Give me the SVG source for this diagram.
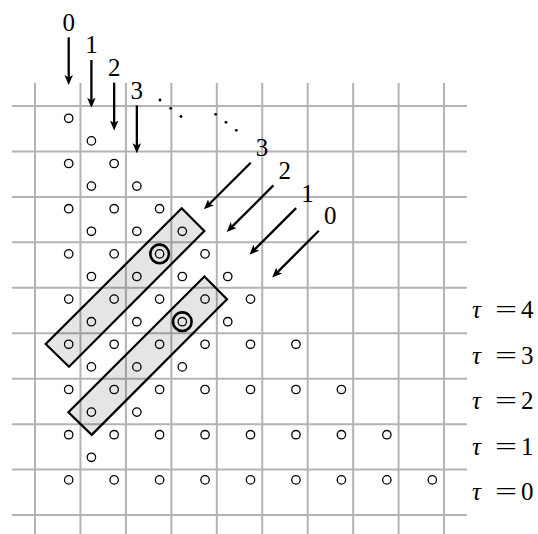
<svg xmlns="http://www.w3.org/2000/svg" width="538" height="534" viewBox="0 0 538 534">
<defs>
<style>
.grid line{stroke:#b3b3b3;stroke-width:2}
.pt{fill:none;stroke:#000;stroke-width:1.3}
.ring{fill:none;stroke:#000;stroke-width:2.6}
.box{fill:#000;fill-opacity:0.1;stroke:#000;stroke-width:2.2;stroke-linejoin:miter}
.arr{stroke:#000;stroke-width:2.3;fill:none;marker-end:url(#ah)}
.dot{fill:#000}
.lab{font-family:"Liberation Serif","DejaVu Serif",serif;font-size:25px;fill:#000;text-anchor:middle}
.tau{font-family:"Liberation Serif","DejaVu Serif",serif;font-size:25px;fill:#000}
</style>
<marker id="ah" markerUnits="userSpaceOnUse" markerWidth="11" markerHeight="9" refX="3.5" refY="4.25" orient="auto">
<path d="M0,0 L10,4.25 L0,8.5 L2.5,4.25 z" fill="#000"/>
</marker>
</defs>
<rect width="538" height="534" fill="#fff"/>
<g id="grid" class="grid">
<line x1="12" y1="106" x2="467" y2="106"/>
<line x1="12" y1="151.45" x2="467" y2="151.45"/>
<line x1="12" y1="196.9" x2="467" y2="196.9"/>
<line x1="12" y1="242.35" x2="467" y2="242.35"/>
<line x1="12" y1="287.8" x2="467" y2="287.8"/>
<line x1="12" y1="333.25" x2="467" y2="333.25"/>
<line x1="12" y1="378.7" x2="467" y2="378.7"/>
<line x1="12" y1="424.15" x2="467" y2="424.15"/>
<line x1="12" y1="469.6" x2="467" y2="469.6"/>
<line x1="12" y1="515.05" x2="467" y2="515.05"/>
<line x1="35" y1="83" x2="35" y2="540"/>
<line x1="80.45" y1="83" x2="80.45" y2="540"/>
<line x1="125.9" y1="83" x2="125.9" y2="540"/>
<line x1="171.35" y1="83" x2="171.35" y2="540"/>
<line x1="216.8" y1="83" x2="216.8" y2="540"/>
<line x1="262.25" y1="83" x2="262.25" y2="540"/>
<line x1="307.7" y1="83" x2="307.7" y2="540"/>
<line x1="353.15" y1="83" x2="353.15" y2="540"/>
<line x1="398.6" y1="83" x2="398.6" y2="540"/>
<line x1="444.05" y1="83" x2="444.05" y2="540"/>
</g>
<g id="tiles">
<polygon id="tile1" class="box" points="181.7,208.3 204.3,231 69,366.7 45.7,344"/>
<polygon id="tile2" class="box" points="204.4,276.5 227,299.2 91.7,434.9 68.4,412.2"/>
</g>
<g id="points">
<circle class="pt" cx="68.7" cy="118.3" r="4.2"/>
<circle class="pt" cx="91.4" cy="140.9" r="4.2"/>
<circle class="pt" cx="68.7" cy="163.5" r="4.2"/><circle class="pt" cx="114.15" cy="163.5" r="4.2"/>
<circle class="pt" cx="91.4" cy="186.1" r="4.2"/><circle class="pt" cx="136.85" cy="186.1" r="4.2"/>
<circle class="pt" cx="68.7" cy="208.7" r="4.2"/><circle class="pt" cx="114.15" cy="208.7" r="4.2"/><circle class="pt" cx="159.6" cy="208.7" r="4.2"/>
<circle class="pt" cx="91.4" cy="231.3" r="4.2"/><circle class="pt" cx="136.85" cy="231.3" r="4.2"/><circle class="pt" cx="182.3" cy="231.3" r="4.2"/>
<circle class="pt" cx="68.7" cy="253.9" r="4.2"/><circle class="pt" cx="114.15" cy="253.9" r="4.2"/><circle class="pt" cx="159.6" cy="253.9" r="4.2"/><circle class="pt" cx="205.05" cy="253.9" r="4.2"/>
<circle class="pt" cx="91.4" cy="276.5" r="4.2"/><circle class="pt" cx="136.85" cy="276.5" r="4.2"/><circle class="pt" cx="182.3" cy="276.5" r="4.2"/><circle class="pt" cx="227.75" cy="276.5" r="4.2"/>
<circle class="pt" cx="68.7" cy="299.1" r="4.2"/><circle class="pt" cx="114.15" cy="299.1" r="4.2"/><circle class="pt" cx="159.6" cy="299.1" r="4.2"/><circle class="pt" cx="205.05" cy="299.1" r="4.2"/><circle class="pt" cx="250.5" cy="299.1" r="4.2"/>
<circle class="pt" cx="91.4" cy="321.7" r="4.2"/><circle class="pt" cx="136.85" cy="321.7" r="4.2"/><circle class="pt" cx="182.3" cy="321.7" r="4.2"/><circle class="pt" cx="227.75" cy="321.7" r="4.2"/>
<circle class="pt" cx="68.7" cy="344.3" r="4.2"/><circle class="pt" cx="114.15" cy="344.3" r="4.2"/><circle class="pt" cx="159.6" cy="344.3" r="4.2"/><circle class="pt" cx="205.05" cy="344.3" r="4.2"/><circle class="pt" cx="250.5" cy="344.3" r="4.2"/><circle class="pt" cx="295.95" cy="344.3" r="4.2"/>
<circle class="pt" cx="91.4" cy="366.9" r="4.2"/><circle class="pt" cx="136.85" cy="366.9" r="4.2"/><circle class="pt" cx="182.3" cy="366.9" r="4.2"/>
<circle class="pt" cx="68.7" cy="389.5" r="4.2"/><circle class="pt" cx="114.15" cy="389.5" r="4.2"/><circle class="pt" cx="159.6" cy="389.5" r="4.2"/><circle class="pt" cx="205.05" cy="389.5" r="4.2"/><circle class="pt" cx="250.5" cy="389.5" r="4.2"/><circle class="pt" cx="295.95" cy="389.5" r="4.2"/><circle class="pt" cx="341.4" cy="389.5" r="4.2"/>
<circle class="pt" cx="91.4" cy="412.1" r="4.2"/><circle class="pt" cx="136.85" cy="412.1" r="4.2"/>
<circle class="pt" cx="68.7" cy="434.7" r="4.2"/><circle class="pt" cx="114.15" cy="434.7" r="4.2"/><circle class="pt" cx="159.6" cy="434.7" r="4.2"/><circle class="pt" cx="205.05" cy="434.7" r="4.2"/><circle class="pt" cx="250.5" cy="434.7" r="4.2"/><circle class="pt" cx="295.95" cy="434.7" r="4.2"/><circle class="pt" cx="341.4" cy="434.7" r="4.2"/><circle class="pt" cx="386.85" cy="434.7" r="4.2"/>
<circle class="pt" cx="91.4" cy="457.3" r="4.2"/>
<circle class="pt" cx="68.7" cy="479.9" r="4.2"/><circle class="pt" cx="114.15" cy="479.9" r="4.2"/><circle class="pt" cx="159.6" cy="479.9" r="4.2"/><circle class="pt" cx="205.05" cy="479.9" r="4.2"/><circle class="pt" cx="250.5" cy="479.9" r="4.2"/><circle class="pt" cx="295.95" cy="479.9" r="4.2"/><circle class="pt" cx="341.4" cy="479.9" r="4.2"/><circle class="pt" cx="386.85" cy="479.9" r="4.2"/><circle class="pt" cx="432.3" cy="479.9" r="4.2"/>
</g>
<g id="marked">
<circle class="ring" cx="159.6" cy="253.9" r="9.3"/>
<circle class="ring" cx="182.3" cy="321.7" r="9.3"/>
</g>
<g id="dots">
<circle class="dot" cx="160" cy="100" r="1.4"/>
<circle class="dot" cx="170.7" cy="108.3" r="1.4"/>
<circle class="dot" cx="181" cy="116.5" r="1.4"/>
<circle class="dot" cx="215.6" cy="114.3" r="1.4"/>
<circle class="dot" cx="226" cy="122.3" r="1.4"/>
<circle class="dot" cx="236.3" cy="130.3" r="1.4"/>
</g>
<g id="connectors">
<line class="arr" x1="68.7" y1="37.3" x2="68.7" y2="78.5"/>
<line class="arr" x1="91.4" y1="60" x2="91.4" y2="101.3"/>
<line class="arr" x1="114.15" y1="82.7" x2="114.15" y2="124"/>
<line class="arr" x1="136.85" y1="105.4" x2="136.85" y2="146.8"/>
<line class="arr" x1="250.7" y1="162.7" x2="208.6" y2="204.7"/>
<line class="arr" x1="273.4" y1="185.4" x2="231.3" y2="227.4"/>
<line class="arr" x1="296.1" y1="208.1" x2="254" y2="250.1"/>
<line class="arr" x1="318.8" y1="230.8" x2="276.8" y2="272.9"/>
</g>
<g id="labels">
<text class="lab" x="68.7" y="30.5">0</text>
<text class="lab" x="91.4" y="53.25">1</text>
<text class="lab" x="114.15" y="76">2</text>
<text class="lab" x="136.85" y="98.75">3</text>
<text class="lab" x="262" y="156">3</text>
<text class="lab" x="284.75" y="178.75">2</text>
<text class="lab" x="307.5" y="201.5">1</text>
<text class="lab" x="330.25" y="224.25">0</text>
</g>
<g id="tau-labels">
<g id="tau4"><text class="tau" x="472" y="318" font-style="italic" font-size="28">τ</text><text class="tau" x="495" y="318" textLength="22" lengthAdjust="spacingAndGlyphs">=</text><text class="tau" x="521" y="318">4</text></g>
<g id="tau3"><text class="tau" x="472" y="363.5" font-style="italic" font-size="28">τ</text><text class="tau" x="495" y="363.5" textLength="22" lengthAdjust="spacingAndGlyphs">=</text><text class="tau" x="521" y="363.5">3</text></g>
<g id="tau2"><text class="tau" x="472" y="409" font-style="italic" font-size="28">τ</text><text class="tau" x="495" y="409" textLength="22" lengthAdjust="spacingAndGlyphs">=</text><text class="tau" x="521" y="409">2</text></g>
<g id="tau1"><text class="tau" x="472" y="454.5" font-style="italic" font-size="28">τ</text><text class="tau" x="495" y="454.5" textLength="22" lengthAdjust="spacingAndGlyphs">=</text><text class="tau" x="521" y="454.5">1</text></g>
<g id="tau0"><text class="tau" x="472" y="500" font-style="italic" font-size="28">τ</text><text class="tau" x="495" y="500" textLength="22" lengthAdjust="spacingAndGlyphs">=</text><text class="tau" x="521" y="500">0</text></g>
</g>
</svg>
